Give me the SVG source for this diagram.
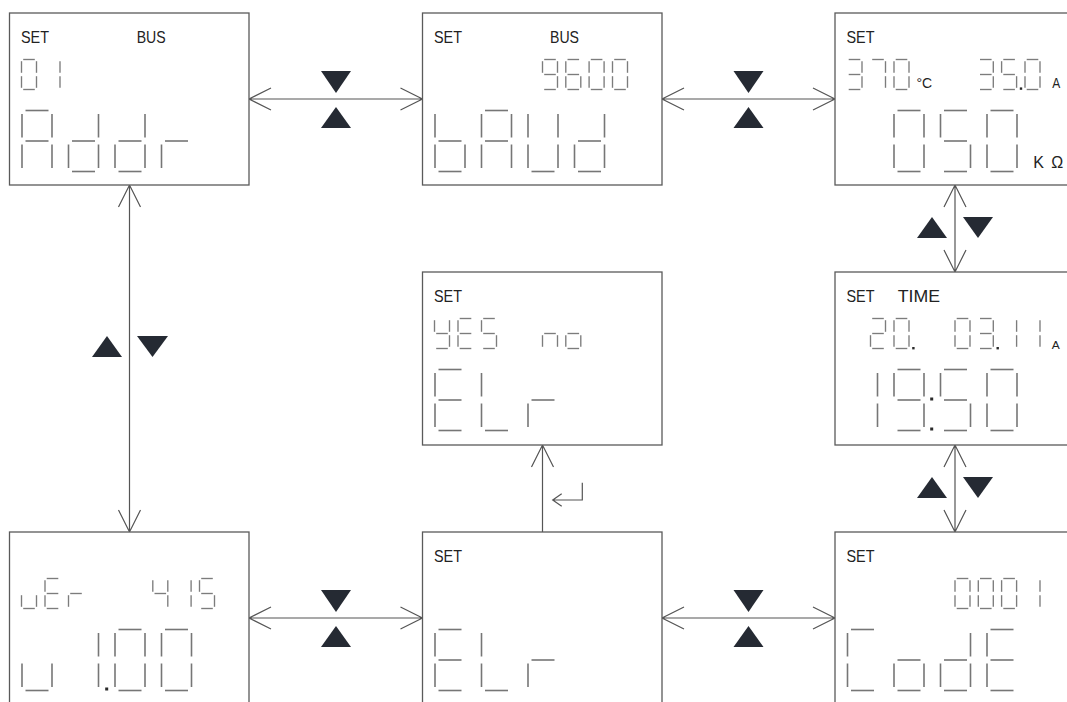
<svg xmlns="http://www.w3.org/2000/svg" width="1067" height="702" viewBox="0 0 1067 702">
<style>
.box{fill:#fff;stroke:#5a5a5a;stroke-width:1.3}
.lbl{font-family:"Liberation Sans",Arial,sans-serif;font-size:17px;fill:#222}
.unit{font-family:"Liberation Sans",Arial,sans-serif;fill:#222}
.ss{fill:none;stroke:#7c7c7c;stroke-width:1.35}
.ls{fill:none;stroke:#767676;stroke-width:1.6}
.dot{fill:#2a2a2a}
.con{fill:none;stroke:#555;stroke-width:1.2}
.tri{fill:#252a33}
</style>
<defs>
<path id="sa" class="ss" d="M1.7,0H13.3"/>
<path id="sb" class="ss" d="M15,1.7V13.3"/>
<path id="sc" class="ss" d="M15,16.7V28.3"/>
<path id="sd" class="ss" d="M1.7,30H13.3"/>
<path id="se" class="ss" d="M0,16.7V28.3"/>
<path id="sf" class="ss" d="M0,1.7V13.3"/>
<path id="sg" class="ss" d="M1.7,15H13.3"/>
<path id="la" class="ls" d="M3.5,0H26.5"/>
<path id="lb" class="ls" d="M30,3.5V27"/>
<path id="lc" class="ls" d="M30,34V57.5"/>
<path id="ld" class="ls" d="M3.5,61H26.5"/>
<path id="le" class="ls" d="M0,34V57.5"/>
<path id="lf" class="ls" d="M0,3.5V27"/>
<path id="lg" class="ls" d="M3.5,30.5H26.5"/>
<g id="s0"><use href="#sa"/><use href="#sb"/><use href="#sc"/><use href="#sd"/><use href="#se"/><use href="#sf"/></g>
<g id="s1"><use href="#sb"/><use href="#sc"/></g>
<g id="s2"><use href="#sa"/><use href="#sb"/><use href="#sd"/><use href="#se"/><use href="#sg"/></g>
<g id="s3"><use href="#sa"/><use href="#sb"/><use href="#sc"/><use href="#sd"/><use href="#sg"/></g>
<g id="s4"><use href="#sb"/><use href="#sc"/><use href="#sf"/><use href="#sg"/></g>
<g id="s5"><use href="#sa"/><use href="#sc"/><use href="#sd"/><use href="#sf"/><use href="#sg"/></g>
<g id="s6"><use href="#sa"/><use href="#sc"/><use href="#sd"/><use href="#se"/><use href="#sf"/><use href="#sg"/></g>
<g id="s7"><use href="#sa"/><use href="#sb"/><use href="#sc"/></g>
<g id="s9"><use href="#sa"/><use href="#sb"/><use href="#sc"/><use href="#sd"/><use href="#sf"/><use href="#sg"/></g>
<g id="sE"><use href="#sa"/><use href="#sd"/><use href="#se"/><use href="#sf"/><use href="#sg"/></g>
<g id="sr"><use href="#se"/><use href="#sg"/></g>
<g id="sY"><use href="#sb"/><use href="#sc"/><use href="#sd"/><use href="#sf"/><use href="#sg"/></g>
<g id="sn"><use href="#sc"/><use href="#se"/><use href="#sg"/></g>
<g id="so"><use href="#sc"/><use href="#sd"/><use href="#se"/><use href="#sg"/></g>
<g id="su"><use href="#sc"/><use href="#sd"/><use href="#se"/></g>
<g id="lA"><use href="#la"/><use href="#lb"/><use href="#lc"/><use href="#le"/><use href="#lf"/><use href="#lg"/></g>
<g id="ldd"><use href="#lb"/><use href="#lc"/><use href="#ld"/><use href="#le"/><use href="#lg"/></g>
<g id="lr"><use href="#le"/><use href="#lg"/></g>
<g id="lbb"><use href="#lc"/><use href="#ld"/><use href="#le"/><use href="#lf"/><use href="#lg"/></g>
<g id="lU"><use href="#lb"/><use href="#lc"/><use href="#ld"/><use href="#le"/><use href="#lf"/></g>
<g id="l0"><use href="#la"/><use href="#lb"/><use href="#lc"/><use href="#ld"/><use href="#le"/><use href="#lf"/></g>
<g id="l5"><use href="#la"/><use href="#lc"/><use href="#ld"/><use href="#lf"/><use href="#lg"/></g>
<g id="l1"><use href="#lb"/><use href="#lc"/></g>
<g id="l9"><use href="#la"/><use href="#lb"/><use href="#lc"/><use href="#ld"/><use href="#lf"/><use href="#lg"/></g>
<g id="lE"><use href="#la"/><use href="#ld"/><use href="#le"/><use href="#lf"/><use href="#lg"/></g>
<g id="lL"><use href="#ld"/><use href="#le"/><use href="#lf"/></g>
<g id="lC"><use href="#la"/><use href="#ld"/><use href="#le"/><use href="#lf"/></g>
<g id="lo"><use href="#lc"/><use href="#ld"/><use href="#le"/><use href="#lg"/></g>
<g id="lu"><use href="#lc"/><use href="#ld"/><use href="#le"/></g>
</defs>
<rect width="1067" height="702" fill="#fff"/>

<g id="connectors">
<path class="con" d="M249,99H422.5M271,88L249,99L271,110M400.5,88L422.5,99L400.5,110"/>
<polygon class="tri" points="321,71 351,71 336,93"/><polygon class="tri" points="321,128 351,128 336,107"/>
<path class="con" d="M662,99H835M684,88L662,99L684,110M813,88L835,99L813,110"/>
<polygon class="tri" points="733.5,71 763.5,71 748.5,93"/><polygon class="tri" points="733.5,128 763.5,128 748.5,107"/>
<path class="con" d="M249,618H422.5M271,607L249,618L271,629M400.5,607L422.5,618L400.5,629"/>
<polygon class="tri" points="321,590 351,590 336,612"/><polygon class="tri" points="321,647 351,647 336,626"/>
<path class="con" d="M662,618H835M684,607L662,618L684,629M813,607L835,618L813,629"/>
<polygon class="tri" points="733.5,590 763.5,590 748.5,612"/><polygon class="tri" points="733.5,647 763.5,647 748.5,626"/>
<path class="con" d="M129.5,185V532M118.5,207L129.5,185L140.5,207M118.5,510L129.5,532L140.5,510"/>
<polygon class="tri" points="92,357 122,357 107,336"/><polygon class="tri" points="137,336 168,336 152.5,357"/>
<path class="con" d="M955,185V272M944,207L955,185L966,207M944,250L955,272L966,250"/>
<polygon class="tri" points="917,238 947,238 932,217"/><polygon class="tri" points="963,217 993,217 978,238"/>
<path class="con" d="M955,445V532M944,467L955,445L966,467M944,510L955,532L966,510"/>
<polygon class="tri" points="917,498 947,498 932,477"/><polygon class="tri" points="963,477 993,477 978,498"/>
<path class="con" d="M542.5,445V532M531.5,467L542.5,445L553.5,467"/>
<path class="con" d="M582.3,482.7V500H552.7M561.7,493.7L552.7,500L561.7,506.3"/>
</g>

<g id="box-addr">
<rect class="box" x="9.5" y="13" width="239.5" height="172"/>
<text class="lbl" x="21" y="42.7" textLength="28" lengthAdjust="spacingAndGlyphs">SET</text>
<text class="lbl" x="136.7" y="42.7" textLength="29" lengthAdjust="spacingAndGlyphs">BUS</text>
<use href="#s0" x="21.5" y="59.5"/><use href="#s1" x="45" y="59.5"/>
<use href="#lA" x="22" y="110.5"/><use href="#ldd" x="68.5" y="110.5"/><use href="#ldd" x="115" y="110.5"/><use href="#lr" x="161.5" y="110.5"/>
</g>

<g id="box-baud">
<rect class="box" x="422.5" y="13" width="239.5" height="172"/>
<text class="lbl" x="434" y="42.7" textLength="28" lengthAdjust="spacingAndGlyphs">SET</text>
<text class="lbl" x="550" y="42.7" textLength="29" lengthAdjust="spacingAndGlyphs">BUS</text>
<use href="#s9" x="542.5" y="59.5"/><use href="#s6" x="565.8" y="59.5"/><use href="#s0" x="589.1" y="59.5"/><use href="#s0" x="612.5" y="59.5"/>
<use href="#lbb" x="435" y="110.5"/><use href="#lA" x="481.5" y="110.5"/><use href="#lU" x="528" y="110.5"/><use href="#ldd" x="574.5" y="110.5"/>
</g>

<g id="box-resist">
<rect class="box" x="835" y="13" width="240" height="172"/>
<text class="lbl" x="846.5" y="42.7" textLength="28" lengthAdjust="spacingAndGlyphs">SET</text>
<use href="#s3" x="847" y="59.5"/><use href="#s7" x="870.5" y="59.5"/><use href="#s0" x="894" y="59.5"/>
<text class="unit" x="916.5" y="88.3" font-size="14">°C</text>
<use href="#s3" x="978.3" y="59.5"/><use href="#s5" x="1001.6" y="59.5"/><rect class="dot" x="1019.8" y="87.4" width="2.4" height="2.4"/><use href="#s0" x="1025" y="59.5"/>
<text class="unit" x="1052.3" y="88.3" font-size="14" textLength="8" lengthAdjust="spacingAndGlyphs">A</text>
<use href="#l0" x="894" y="110.5"/><use href="#l5" x="940.5" y="110.5"/><use href="#l0" x="987" y="110.5"/>
<text class="unit" x="1033.3" y="168.3" font-size="16" textLength="30" lengthAdjust="spacing">KΩ</text>
</g>

<g id="box-clr-confirm">
<rect class="box" x="422.5" y="272" width="239.5" height="173"/>
<text class="lbl" x="434" y="301.7" textLength="28" lengthAdjust="spacingAndGlyphs">SET</text>
<use href="#sY" x="434.5" y="318.5"/><use href="#sE" x="458" y="318.5"/><use href="#s5" x="481.5" y="318.5"/>
<use href="#sn" x="542.5" y="318.5"/><use href="#so" x="565.8" y="318.5"/>
<use href="#lE" x="435" y="369.5"/><use href="#lL" x="481.5" y="369.5"/><use href="#lr" x="528" y="369.5"/>
</g>

<g id="box-time">
<rect class="box" x="835" y="272" width="240" height="173"/>
<text class="lbl" x="846.5" y="302" textLength="28" lengthAdjust="spacingAndGlyphs">SET</text>
<text class="lbl" x="897.7" y="302" textLength="42.3" lengthAdjust="spacingAndGlyphs">TIME</text>
<use href="#s2" x="870.5" y="318.5"/><use href="#s0" x="894" y="318.5"/><rect class="dot" x="912.2" y="347" width="2.4" height="2.4"/>
<use href="#s0" x="955" y="318.5"/><use href="#s3" x="978.3" y="318.5"/><rect class="dot" x="996.5" y="347" width="2.4" height="2.4"/>
<use href="#s1" x="1001.6" y="318.5"/><use href="#s1" x="1025" y="318.5"/>
<text class="unit" x="1051.7" y="348.5" font-size="11" textLength="8" lengthAdjust="spacingAndGlyphs">A</text>
<use href="#l1" x="847.5" y="369.5"/><use href="#l9" x="894" y="369.5"/>
<rect class="dot" x="930.2" y="397.5" width="3" height="3"/><rect class="dot" x="930.2" y="427.5" width="3" height="3"/>
<use href="#l5" x="940.5" y="369.5"/><use href="#l0" x="987" y="369.5"/>
</g>

<g id="box-version">
<rect class="box" x="9.5" y="532" width="239.5" height="172"/>
<use href="#su" x="21.5" y="578.5"/><use href="#sE" x="45" y="578.5"/><use href="#sr" x="68.5" y="578.5"/>
<use href="#s4" x="152.8" y="578.5"/><use href="#s1" x="176.1" y="578.5"/><use href="#s5" x="199.5" y="578.5"/>
<use href="#lu" x="22" y="629.5"/><use href="#l1" x="68.5" y="629.5"/>
<rect class="dot" x="105.2" y="687.5" width="3" height="3"/>
<use href="#l0" x="115" y="629.5"/><use href="#l0" x="161.5" y="629.5"/>
</g>

<g id="box-clr">
<rect class="box" x="422.5" y="532" width="239.5" height="172"/>
<text class="lbl" x="434" y="561.7" textLength="28" lengthAdjust="spacingAndGlyphs">SET</text>
<use href="#lE" x="435" y="629.5"/><use href="#lL" x="481.5" y="629.5"/><use href="#lr" x="528" y="629.5"/>
</g>

<g id="box-code">
<rect class="box" x="835" y="532" width="240" height="172"/>
<text class="lbl" x="846.5" y="561.7" textLength="28" lengthAdjust="spacingAndGlyphs">SET</text>
<use href="#s0" x="955" y="578.5"/><use href="#s0" x="978.3" y="578.5"/><use href="#s0" x="1001.6" y="578.5"/><use href="#s1" x="1025" y="578.5"/>
<use href="#lC" x="847.5" y="629.5"/><use href="#lo" x="894" y="629.5"/><use href="#ldd" x="940.5" y="629.5"/><use href="#lE" x="987" y="629.5"/>
</g>
</svg>
